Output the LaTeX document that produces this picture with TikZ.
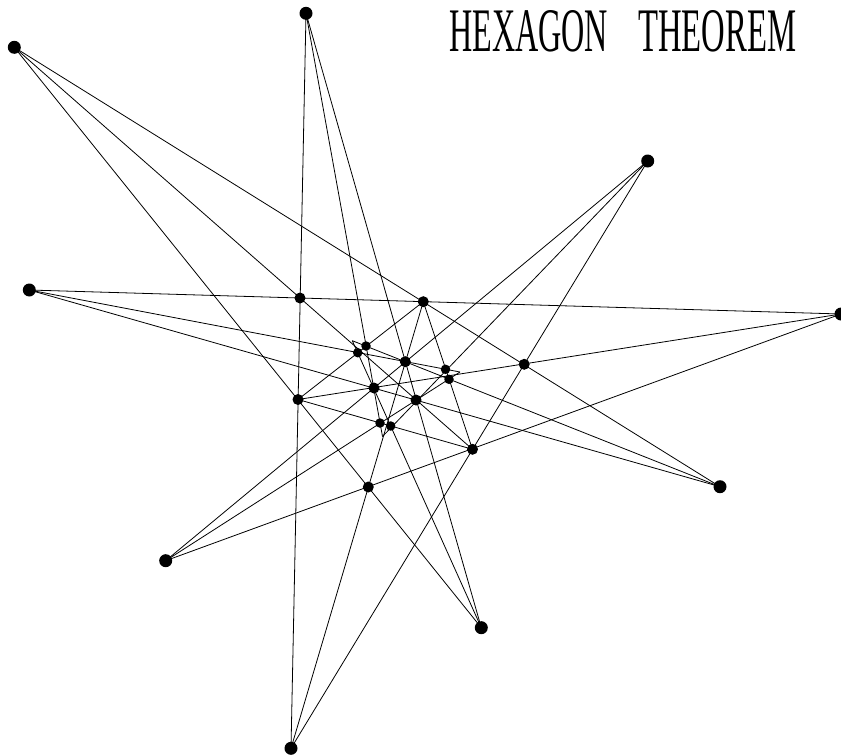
\documentclass[tikz,border=0pt]{standalone}
\usepackage{fontspec}
\setmainfont{Liberation Serif}
\usepackage{graphicx}
\begin{document}
\begin{tikzpicture}[x=1pt,y=-1pt,
  odot/.style={circle,fill=black,inner sep=0pt,minimum size=13pt},
  idot/.style={circle,fill=black,inner sep=0pt,minimum size=11pt},
  sdot/.style={circle,fill=black,inner sep=0pt,minimum size=9.5pt},
  ln/.style={black,line width=0.8pt},
  ttl/.style={anchor=north west,inner sep=0pt}]
\useasboundingbox (0,0) rectangle (841,755);
% outer points
\node[odot] (A) at (306,13.3) {};
\node[odot] (B) at (14.3,47.3) {};
\node[odot] (C) at (647.7,161) {};
\node[odot] (D) at (29.3,290) {};
\node[odot] (E) at (841,314) {};
\node[odot] (F) at (720,486.7) {};
\node[odot] (G) at (165.7,560.7) {};
\node[odot] (H) at (481.3,627.7) {};
\node[odot] (I) at (291,748.3) {};
% inner points
\node[idot] (P1) at (300,298) {};
\node[idot] (P2) at (423.3,301.7) {};
\node[sdot] (P3) at (366,346) {};
\node[sdot] (P4) at (357.7,352.7) {};
\node[idot] (P5) at (405.3,361.7) {};
\node[sdot] (P6) at (445.5,369.3) {};
\node[idot] (P7) at (524.2,364.3) {};
\node[sdot] (P8) at (449,379.3) {};
\node[idot] (P9) at (374,388) {};
\node[idot] (P10) at (298,399.5) {};
\node[idot] (P11) at (416,400) {};
\node[sdot] (P12) at (380,423) {};
\node[sdot] (P13) at (390.7,426) {};
\node[idot] (P14) at (472.5,449.3) {};
\node[idot] (P15) at (368.3,487) {};
% free line ends
\coordinate (S1) at (352.3,340.7);
\coordinate (S2) at (460,372);
\coordinate (Q1) at (382.5,436.5);
% lines
\draw[ln] (A.center) -- (I.center);
\draw[ln] (A.center) -- (Q1);
\draw[ln] (A.center) -- (H.center);
\draw[ln] (B.center) -- (P14.center);
\draw[ln] (B.center) -- (F.center);
\draw[ln] (B.center) -- (H.center);
\draw[ln] (C.center) -- (G.center);
\draw[ln] (C.center) -- (I.center);
\draw[ln] (C.center) -- (Q1);
\draw[ln] (D.center) -- (E.center);
\draw[ln] (D.center) -- (S2);
\draw[ln] (D.center) -- (F.center);
\draw[ln] (E.center) -- (G.center);
\draw[ln] (E.center) -- (P10.center);
\draw[ln] (F.center) -- (S1);
\draw[ln] (G.center) -- (S2);
\draw[ln] (H.center) -- (S1);
\draw[ln] (I.center) -- (P2.center);
\draw[ln] (P2.center) -- (P14.center);
\draw[ln] (P10.center) -- (P2.center);
\draw[ln] (P10.center) -- (P14.center);
% title
\node[ttl] (T1) at (449,10) {\resizebox{159pt}{41pt}{HEXAGON}};
\node[ttl] (T2) at (638,10) {\resizebox{158pt}{41pt}{THEOREM}};
\end{tikzpicture}
\end{document}
